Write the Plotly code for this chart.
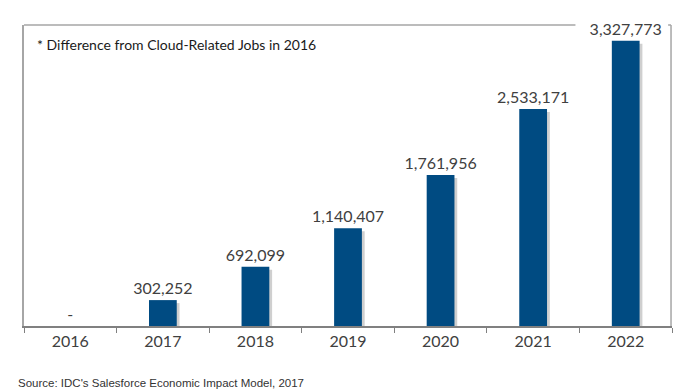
import plotly.graph_objects as go

years = ["2016", "2017", "2018", "2019", "2020", "2021", "2022"]
jobs = [0, 302252, 692099, 1140407, 1761956, 2533171, 3327773]
labels = ["-", "302,252", "692,099", "1,140,407", "1,761,956", "2,533,171", "3,327,773"]

bar_color = "#004b82"
frame_color = "#a6a6a6"
text_color = "#404040"
shadow_drop = 35000

fig = go.Figure()
fig.add_trace(go.Bar(
    x=years, y=[max(v - shadow_drop, 0) for v in jobs],
    width=0.3, offset=-0.12,
    marker=dict(color="rgba(160,160,160,0.5)", line=dict(width=0)),
    hoverinfo="skip", showlegend=False,
))
fig.add_trace(go.Bar(
    x=years, y=jobs, width=0.3, offset=-0.15,
    marker=dict(color=bar_color, line=dict(width=0)),
    text=labels, textposition="outside", cliponaxis=False, constraintext="none",
    textfont=dict(family="Lato", size=16, color=text_color),
    showlegend=False,
))

fig.update_layout(
    width=682, height=392,
    margin=dict(l=16, r=18, t=17, b=74, autoexpand=False),
    paper_bgcolor="white", plot_bgcolor="white",
    barmode="overlay",
    xaxis=dict(
        type="category", tickson="boundaries", ticks="outside", ticklen=5,
        tickcolor="#808080", showline=True, linecolor="#808080", linewidth=1.5,
        tickfont=dict(family="Lato", size=16, color=text_color),
        showgrid=False, zeroline=False, automargin=False,
    ),
    yaxis=dict(
        range=[0, 3512000], showticklabels=False, showgrid=False, zeroline=False,
        showline=True, linecolor=frame_color, linewidth=1.5, ticks="", automargin=False,
    ),
    shapes=[
        dict(type="line", xref="paper", yref="paper", x0=0, x1=0.851, y0=1, y1=1,
             line=dict(color=frame_color, width=1.5)),
        dict(type="line", xref="paper", yref="paper", x0=0.9985, x1=0.9985, y0=0, y1=1,
             line=dict(color=frame_color, width=1.5)),
        dict(type="line", xref="paper", yref="paper", x0=0.994, x1=0.9985, y0=1, y1=1,
             line=dict(color=frame_color, width=1.5)),
    ],
    annotations=[
        dict(text="* Difference from Cloud-Related Jobs in 2016", xref="paper", yref="paper",
             x=0.017, y=0.935, xanchor="left", yanchor="middle", showarrow=False,
             font=dict(family="Lato", size=14, color="#1a1a1a")),
        dict(text="Source: IDC's Salesforce Economic Impact Model, 2017", xref="paper", yref="paper",
             x=-0.013, y=-0.189, xanchor="left", yanchor="middle", showarrow=False,
             font=dict(family="Liberation Sans", size=11.5, color="#333333")),
    ],
)

fig.write_html("out.html")
